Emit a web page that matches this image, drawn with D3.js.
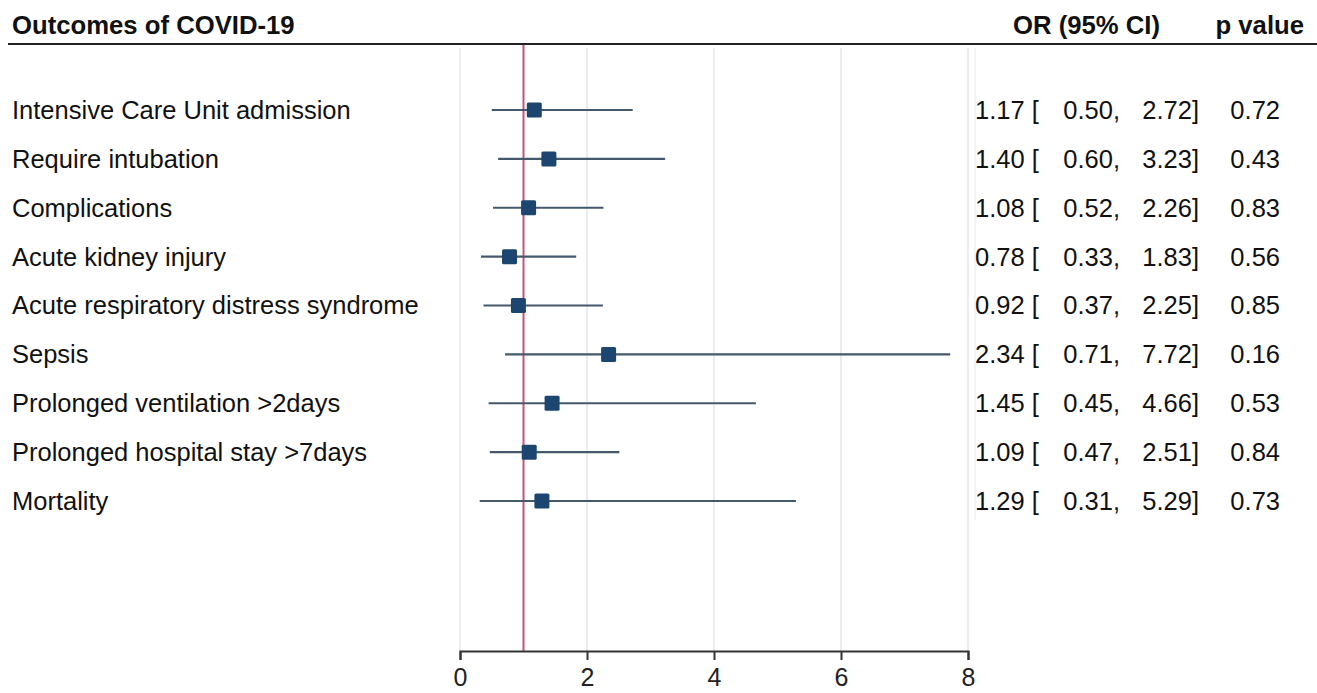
<!DOCTYPE html>
<html><head><meta charset="utf-8">
<script src="https://cdn.jsdelivr.net/npm/d3@7"></script>
<style>body{margin:0;background:#fff}text{font-family:"Liberation Sans",Arial,sans-serif;white-space:pre}</style>
</head><body>
<svg id="c" width="1317" height="693"></svg>
<script>
const outcomes = ["Intensive Care Unit admission","Require intubation","Complications","Acute kidney injury","Acute respiratory distress syndrome","Sepsis","Prolonged ventilation >2days","Prolonged hospital stay >7days","Mortality"];
const orValues = [1.17,1.40,1.08,0.78,0.92,2.34,1.45,1.09,1.29];
const lowerCI = [0.50,0.60,0.52,0.33,0.37,0.71,0.45,0.47,0.31];
const upperCI = [2.72,3.23,2.26,1.83,2.25,7.72,4.66,2.51,5.29];
const pValues = ["0.72","0.43","0.83","0.56","0.85","0.16","0.53","0.84","0.73"];
const xTicks = [0,2,4,6,8];

const svg = d3.select("#c");
const x = d3.scaleLinear().domain([0,8]).range([460,968]);
const y = d3.scaleLinear().domain([0,outcomes.length-1]).range([110,501]);
const axisY = 651, plotTop = 48;
const FS = 25.5;

// grid
svg.append("g").selectAll("line").data(xTicks).join("line")
  .attr("x1",d=>x(d)).attr("x2",d=>x(d)).attr("y1",plotTop).attr("y2",axisY)
  .attr("stroke","#e6e6e6").attr("stroke-width",1.5);
svg.append("line").attr("x1",975).attr("x2",975).attr("y1",plotTop).attr("y2",520).attr("stroke","#f0f0f0").attr("stroke-width",1.5);

// null line
svg.append("line").attr("x1",x(1)).attr("x2",x(1)).attr("y1",plotTop-4).attr("y2",axisY)
  .attr("stroke","#c4567a").attr("stroke-width",2);

// header
svg.append("line").attr("x1",8).attr("x2",1317).attr("y1",44).attr("y2",44).attr("stroke","#222").attr("stroke-width",2.2);
svg.append("text").attr("x",12).attr("y",34).attr("font-size",25.7).attr("font-weight","bold").attr("fill","#111").text("Outcomes of COVID-19");
svg.append("text").attr("x",1160).attr("y",34).attr("text-anchor","end").attr("font-size",25.7).attr("font-weight","bold").attr("fill","#111").text("OR (95% CI)");
svg.append("text").attr("x",1304).attr("y",34).attr("text-anchor","end").attr("font-size",25.7).attr("font-weight","bold").attr("fill","#111").text("p value");

// axis
const ax = svg.append("g").attr("transform",`translate(0,${axisY})`)
  .call(d3.axisBottom(x).tickValues(xTicks).tickSize(9).tickSizeOuter(9));
ax.select(".domain").attr("stroke","#333").attr("stroke-width",2);
ax.selectAll(".tick line").attr("stroke","#333").attr("stroke-width",2);
ax.selectAll(".tick text").attr("font-size",25).attr("fill","#222").attr("dy","0.9em").attr("font-family","Liberation Sans, Arial, sans-serif");

const rows = svg.append("g").selectAll("g").data(outcomes).join("g");
rows.append("text").attr("x",12).attr("y",(d,i)=>y(i)).attr("dy","0.35em").attr("font-size",FS).attr("fill","#111").text(d=>d);
rows.append("line").attr("x1",(d,i)=>x(lowerCI[i])).attr("x2",(d,i)=>x(upperCI[i]))
  .attr("y1",(d,i)=>y(i)).attr("y2",(d,i)=>y(i)).attr("stroke","#44596c").attr("stroke-width",2.2);
rows.append("rect").attr("x",(d,i)=>x(orValues[i])-7.5).attr("y",(d,i)=>y(i)-7.5).attr("width",15).attr("height",15)
  .attr("fill","#1c4670").attr("rx",1.5);
const f = d3.format(".2f");
rows.append("text").attr("x",975).attr("y",(d,i)=>y(i)).attr("dy","0.35em").attr("font-size",FS).attr("fill","#111")
  .text((d,i)=>`${f(orValues[i])} [`);
rows.append("text").attr("x",1120).attr("y",(d,i)=>y(i)).attr("dy","0.35em").attr("text-anchor","end").attr("font-size",FS).attr("fill","#111")
  .text((d,i)=>`${f(lowerCI[i])},`);
rows.append("text").attr("x",1199).attr("y",(d,i)=>y(i)).attr("dy","0.35em").attr("text-anchor","end").attr("font-size",FS).attr("fill","#111")
  .text((d,i)=>`${f(upperCI[i])}]`);
rows.append("text").attr("x",1280).attr("y",(d,i)=>y(i)).attr("dy","0.35em").attr("text-anchor","end").attr("font-size",FS).attr("fill","#111")
  .text((d,i)=>pValues[i]);
</script></body></html>
